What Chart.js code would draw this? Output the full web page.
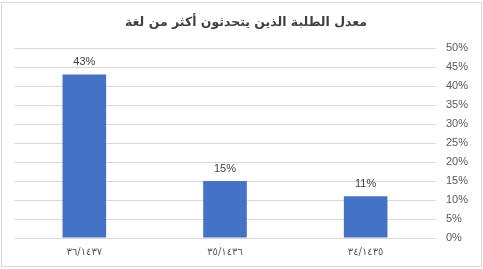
<!DOCTYPE html>
<html>
<head>
<meta charset="utf-8">
<script src="https://cdn.jsdelivr.net/npm/chart.js@4"></script>
<style>
    html, body { margin: 0; padding: 0; background: #fff; }
    #wrap { width: 483px; height: 269px; position: relative; }
</style>
</head>
<body>
<div id="wrap"><canvas id="myChart"></canvas></div>
<script>
var chartTitle = 'معدل الطلبة الذين يتحدثون أكثر من لغة';
var categories = ['٣٦/١٤٣٧', '٣٥/١٤٣٦', '٣٤/١٤٣٥'];
var values = [43, 15, 11];
var yTicks = [0, 5, 10, 15, 20, 25, 30, 35, 40, 45, 50];

document.addEventListener('DOMContentLoaded', function() {
    var ctx = document.getElementById('myChart').getContext('2d');

    // frame around the whole chart
    var framePlugin = {
        id: 'frame',
        beforeDraw: function(chart) {
            var c = chart.ctx;
            c.save();
            c.fillStyle = '#fff';
            c.fillRect(0, 0, chart.width, chart.height);
            c.strokeStyle = '#d9d9d9';
            c.lineWidth = 1;
            c.strokeRect(1.5, 2.5, chart.width - 3, chart.height - 5);
            c.restore();
        }
    };

    // value labels above each bar
    var barLabels = {
        id: 'barLabels',
        afterDatasetsDraw: function(chart) {
            var c = chart.ctx;
            var meta = chart.getDatasetMeta(0);
            c.save();
            c.font = '11px "Liberation Sans", Arial, sans-serif';
            c.fillStyle = '#404040';
            c.textAlign = 'center';
            c.textBaseline = 'bottom';
            meta.data.forEach(function(bar, i) {
                c.fillText(values[i] + '%', bar.x, bar.y - 7);
            });
            c.restore();
        }
    };

    var myChart = new Chart(ctx, {
        type: 'bar',
        data: {
            labels: categories,
            datasets: [{
                data: values,
                backgroundColor: '#4472c4',
                categoryPercentage: 1,
                barPercentage: 0.31
            }]
        },
        options: {
            responsive: true,
            maintainAspectRatio: false,
            animation: false,
            layout: {
                padding: { left: 14, right: 5, top: 4, bottom: 3 }
            },
            plugins: {
                legend: { display: false },
                tooltip: { enabled: false },
                title: {
                    display: true,
                    text: chartTitle,
                    color: '#404040',
                    font: { family: '"DejaVu Sans", sans-serif', size: 12.5, weight: 'bold' },
                    padding: { top: 11, bottom: 18 }
                }
            },
            scales: {
                x: {
                    grid: { display: false, drawTicks: false },
                    border: { display: false },
                    ticks: {
                        color: '#595959',
                        font: { family: '"DejaVu Sans", sans-serif', size: 10 },
                        padding: 8
                    }
                },
                y: {
                    position: 'right',
                    min: 0,
                    max: 50,
                    afterBuildTicks: function(axis) {
                        axis.ticks = yTicks.map(function(v) { return { value: v }; });
                    },
                    grid: { color: '#d9d9d9', drawTicks: false },
                    border: { display: false },
                    ticks: {
                        color: '#595959',
                        font: { family: '"Liberation Sans", Arial, sans-serif', size: 11 },
                        padding: 10,
                        callback: function(v) { return v + '%'; }
                    }
                }
            }
        },
        plugins: [framePlugin, barLabels]
    });
});
</script>
</body>
</html>
